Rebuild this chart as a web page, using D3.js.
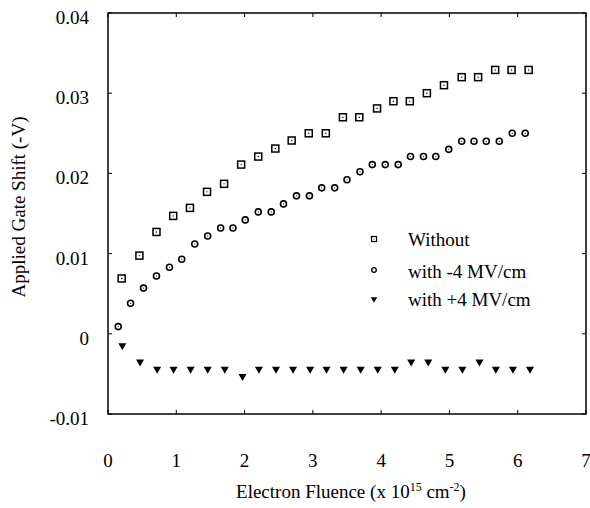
<!DOCTYPE html>
<html>
<head>
<meta charset="utf-8">
<script src="https://cdn.jsdelivr.net/npm/d3@7"></script>
<style>
  html, body { margin: 0; padding: 0; background: #fff; }
  svg { display: block; }
  text { font-family: "Liberation Serif", "Times New Roman", serif; fill: #000; }
</style>
</head>
<body>
<svg id="chart" width="590" height="508"></svg>
<script>
// ---- Data ----
const withoutX = [0.20, 0.46, 0.71, 0.955, 1.20, 1.45, 1.70, 1.95, 2.20, 2.45, 2.69, 2.94, 3.19, 3.44, 3.68, 3.94, 4.18, 4.42, 4.67, 4.92, 5.18, 5.42, 5.67, 5.91, 6.16];
const withoutY = [0.0069, 0.00975, 0.0127, 0.0147, 0.0157, 0.0177, 0.0187, 0.0211, 0.0221, 0.0231, 0.0241, 0.0250, 0.0250, 0.0270, 0.0270, 0.0281, 0.0290, 0.0290, 0.0300, 0.0310, 0.0320, 0.0320, 0.0329, 0.0329, 0.0329];

const negX = [0.15, 0.33, 0.52, 0.71, 0.90, 1.08, 1.27, 1.46, 1.65, 1.83, 2.01, 2.20, 2.39, 2.57, 2.76, 2.95, 3.13, 3.32, 3.50, 3.69, 3.87, 4.06, 4.25, 4.43, 4.62, 4.80, 4.99, 5.18, 5.36, 5.54, 5.73, 5.92, 6.11];
const negY = [0.0009, 0.0038, 0.0057, 0.0072, 0.0083, 0.0093, 0.0112, 0.0122, 0.0132, 0.0132, 0.0142, 0.0152, 0.0152, 0.0162, 0.0172, 0.0172, 0.0182, 0.0182, 0.0192, 0.0202, 0.0211, 0.0211, 0.0211, 0.0221, 0.0221, 0.0221, 0.0230, 0.0240, 0.0240, 0.0240, 0.0240, 0.0250, 0.0250];

const posX = [0.21, 0.47, 0.72, 0.96, 1.21, 1.46, 1.71, 1.97, 2.21, 2.46, 2.71, 2.96, 3.20, 3.45, 3.70, 3.95, 4.20, 4.44, 4.69, 4.94, 5.19, 5.44, 5.68, 5.93, 6.18];
const posY = [-0.00146, -0.0035, -0.0044, -0.0044, -0.0044, -0.0044, -0.0044, -0.0053, -0.0044, -0.0044, -0.0044, -0.0044, -0.0044, -0.0044, -0.0044, -0.0044, -0.0044, -0.0035, -0.0035, -0.0044, -0.0044, -0.0035, -0.0044, -0.0044, -0.0044];

const xTicks = [0, 1, 2, 3, 4, 5, 6, 7];
const yTicks = [-0.01, 0, 0.01, 0.02, 0.03, 0.04];
const yTickLabels = ["-0.01", "0", "0.01", "0.02", "0.03", "0.04"];
const legendLabels = ["Without", "with -4 MV/cm", "with +4 MV/cm"];

// ---- Layout ----
const svg = d3.select("#chart");
const L = 108, R = 586, T = 13, B = 414;
const x = d3.scaleLinear().domain([0, 7]).range([L, R]);
const y = d3.scaleLinear().domain([-0.01, 0.04]).range([B, T]);

// ticks (inward) on all sides
const tickLen = 4;
const gTicks = svg.append("g").attr("stroke", "#000").attr("stroke-width", 1);
yTicks.forEach(v => {
  gTicks.append("line").attr("x1", L).attr("x2", L + tickLen).attr("y1", y(v)).attr("y2", y(v));
  gTicks.append("line").attr("x1", R).attr("x2", R - tickLen).attr("y1", y(v)).attr("y2", y(v));
});
xTicks.forEach(v => {
  gTicks.append("line").attr("x1", x(v)).attr("x2", x(v)).attr("y1", B).attr("y2", B - tickLen);
  gTicks.append("line").attr("x1", x(v)).attr("x2", x(v)).attr("y1", T).attr("y2", T + tickLen);
});

// frame
svg.append("rect").attr("x", L).attr("y", T).attr("width", R - L).attr("height", B - T)
  .attr("fill", "none").attr("stroke", "#000").attr("stroke-width", 1.5);

// tick labels
svg.append("g").selectAll("text").data(yTicks).join("text")
  .attr("x", 89).attr("y", d => y(d) + 11)
  .attr("text-anchor", "end").attr("font-size", 19)
  .text((d, i) => yTickLabels[i]);

svg.append("g").selectAll("text").data(xTicks).join("text")
  .attr("x", d => x(d)).attr("y", 467)
  .attr("text-anchor", "middle").attr("font-size", 19)
  .text(d => d);

// axis titles
const xt = svg.append("text").attr("x", (L + R) / 2 + 4).attr("y", 498)
  .attr("text-anchor", "middle").attr("font-size", 19);
xt.append("tspan").text("Electron Fluence (x 10");
xt.append("tspan").attr("font-size", 12).attr("dy", -7).text("15");
xt.append("tspan").attr("dy", 7).text(" cm");
xt.append("tspan").attr("font-size", 12).attr("dy", -7).text("-2");
xt.append("tspan").attr("dy", 7).text(")");

svg.append("text").attr("transform", "translate(25,207) rotate(-90)")
  .attr("text-anchor", "middle").attr("font-size", 19)
  .text("Applied Gate Shift (-V)");

// ---- Marks ----
const sq = withoutX.map((d, i) => ({ x: d, y: withoutY[i] }));
const ci = negX.map((d, i) => ({ x: d, y: negY[i] }));
const tr = posX.map((d, i) => ({ x: d, y: posY[i] }));

const gS = svg.append("g");
gS.selectAll("rect").data(sq).join("rect")
  .attr("x", d => x(d.x) - 3.5).attr("y", d => y(d.y) - 3.5)
  .attr("width", 7).attr("height", 7)
  .attr("fill", "#fff").attr("stroke", "#000").attr("stroke-width", 1.5);
gS.selectAll("circle").data(sq).join("circle")
  .attr("cx", d => x(d.x)).attr("cy", d => y(d.y)).attr("r", 0.7).attr("fill", "#000");

const gC = svg.append("g");
gC.selectAll("circle.o").data(ci).join("circle").attr("class", "o")
  .attr("cx", d => x(d.x)).attr("cy", d => y(d.y)).attr("r", 3)
  .attr("fill", "#fff").attr("stroke", "#000").attr("stroke-width", 1.6);
gC.selectAll("circle.d").data(ci).join("circle").attr("class", "d")
  .attr("cx", d => x(d.x)).attr("cy", d => y(d.y)).attr("r", 0.6).attr("fill", "#000");

const tri = d3.symbol().type(d3.symbolTriangle).size(28);
svg.append("g").selectAll("path").data(tr).join("path")
  .attr("d", tri)
  .attr("transform", d => `translate(${x(d.x)},${y(d.y)}) rotate(180)`)
  .attr("fill", "#000");

// ---- Legend ----
const lg = svg.append("g");
const lx = 374, ly = [239, 270, 299], tx = 408, tyb = [246, 278, 306];
lg.append("rect").attr("x", lx - 2.5).attr("y", ly[0] - 2.5).attr("width", 5).attr("height", 5)
  .attr("fill", "#fff").attr("stroke", "#000").attr("stroke-width", 1.2);
lg.append("circle").attr("cx", lx).attr("cy", ly[0]).attr("r", 0.5).attr("fill", "#000");
lg.append("circle").attr("cx", lx).attr("cy", ly[1]).attr("r", 2.3)
  .attr("fill", "#fff").attr("stroke", "#000").attr("stroke-width", 1.3);
lg.append("path").attr("d", d3.symbol().type(d3.symbolTriangle).size(18))
  .attr("transform", `translate(${lx},${ly[2]}) rotate(180)`).attr("fill", "#000");
lg.selectAll("text").data(legendLabels).join("text")
  .attr("x", tx).attr("y", (d, i) => tyb[i]).attr("font-size", 19)
  .text(d => d);
</script>
</body>
</html>
